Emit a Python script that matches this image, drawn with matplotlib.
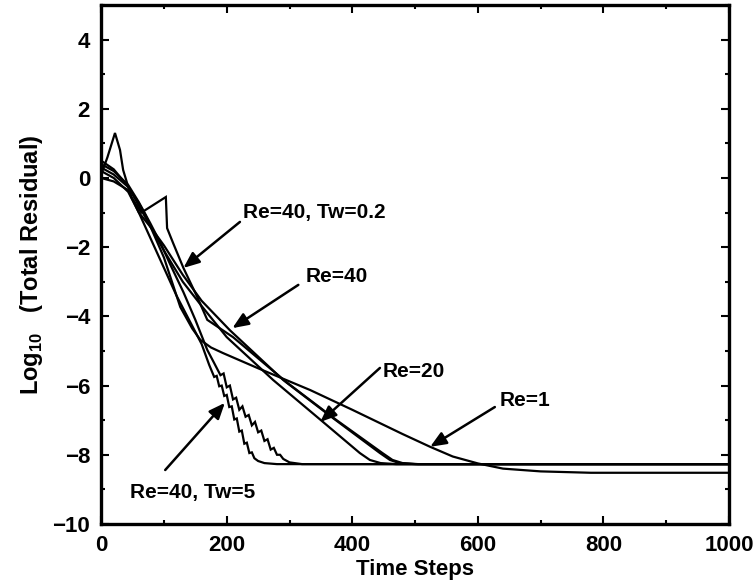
import matplotlib
matplotlib.use("Agg")
import matplotlib.pyplot as plt
from matplotlib.ticker import MultipleLocator

plt.rcParams['font.family'] = ['Liberation Sans', 'DejaVu Sans']
plt.rcParams['mathtext.fontset'] = 'custom'
plt.rcParams['mathtext.rm'] = 'Liberation Sans:bold'
plt.rcParams['mathtext.bf'] = 'Liberation Sans:bold'

# ---- data ----
re1_x = [0, 20, 43, 59, 70, 100, 126, 145, 158, 175, 194, 250, 333, 400, 480, 524, 560, 600, 640, 700, 780, 1000]
re1_y = [0.3, 0.1, -0.26, -0.7, -1.05, -2.3, -3.73, -4.35, -4.68, -4.9, -5.06, -5.5, -6.13, -6.7, -7.4, -7.77, -8.05, -8.25, -8.4, -8.48, -8.52, -8.52]

re20_x = [0, 20, 43, 60, 80, 100, 130, 160, 200, 274, 350, 412, 428, 445, 470, 1000]
re20_y = [0.5, 0.25, -0.25, -0.8, -1.45, -2.1, -3.0, -3.7, -4.6, -5.84, -7.0, -7.95, -8.15, -8.24, -8.27, -8.27]

re40_x = [0, 20, 43, 60, 80, 100, 130, 160, 205, 290, 370, 444, 460, 475, 500, 1000]
re40_y = [0.2, 0.0, -0.4, -1.0, -1.45, -1.95, -2.8, -3.55, -4.4, -5.84, -6.95, -7.95, -8.15, -8.24, -8.27, -8.27]

tw02_x = [0, 10, 22, 30, 35, 48, 64, 103, 105, 115, 131, 153, 169, 210, 295, 375, 448, 464, 480, 505, 1000]
tw02_y = [0.1, 0.6, 1.3, 0.81, 0.23, -0.55, -1.0, -0.55, -1.45, -1.9, -2.6, -3.44, -4.1, -4.6, -5.9, -7.0, -7.95, -8.15, -8.24, -8.27, -8.27]

tw5_x = [0, 20, 43, 60, 80, 100, 120, 140, 160, 172, 180, 184, 188, 192, 196, 200, 204, 208, 212, 216,
         220, 224, 228, 232, 236, 240, 244, 250, 260, 280, 1000]
tw5_y = [0.0, -0.1, -0.35, -1.0, -1.8, -2.6, -3.4, -4.1, -4.8, -5.4, -5.75, -5.72, -6.02, -6.0, -6.3, -6.27,
         -6.62, -6.6, -6.98, -6.95, -7.33, -7.3, -7.68, -7.65, -7.95, -7.93, -8.1, -8.18, -8.24, -8.27, -8.27]

wavy_x = [0, 20, 43, 60, 78, 95, 110, 131, 150, 169, 180, 190, 195, 200, 205, 210, 215, 220, 225, 230, 235,
          240, 245, 250, 255, 260, 265, 270, 275, 280, 285, 290, 300, 320, 1000]
wavy_y = [0.4, 0.2, -0.2, -0.7, -1.3, -1.9, -2.5, -3.3, -4.1, -4.97, -5.35, -5.7, -5.65, -6.05, -6.0, -6.4,
          -6.35, -6.7, -6.6, -6.9, -6.85, -7.15, -7.05, -7.35, -7.3, -7.6, -7.55, -7.85, -7.8, -8.0, -8.0,
          -8.12, -8.22, -8.27, -8.27]

labels = ["Re=40, Tw=0.2", "Re=40", "Re=20", "Re=1", "Re=40, Tw=5"]
label_xy = [(226, -1.0), (325, -2.86), (449, -5.58), (635, -6.42), (46, -9.1)]
arrow_tail = [(221, -1.27), (314, -3.09), (444, -5.49), (627, -6.62), (102, -8.44)]
arrow_head = [(131, -2.6), (209, -4.34), (349, -7.05), (524, -7.77), (197, -6.5)]

x_ticks = [0, 200, 400, 600, 800, 1000]
y_ticks = [-10, -8, -6, -4, -2, 0, 2, 4]

# ---- figure ----
fig = plt.figure(figsize=(7.55, 5.85), dpi=100)
ax = fig.add_axes([0.134, 0.1043, 0.8316, 0.8872])

for xs, ys in [(re1_x, re1_y), (re20_x, re20_y), (re40_x, re40_y),
               (tw02_x, tw02_y), (tw5_x, tw5_y), (wavy_x, wavy_y)]:
    ax.plot(xs, ys, color='black', lw=1.6, solid_joinstyle='miter')

for lab, (tx, ty), tail, head in zip(labels, label_xy, arrow_tail, arrow_head):
    ax.text(tx, ty, lab, fontsize=15, fontweight='bold', ha='left', va='center')
    ax.annotate('', xy=head, xytext=tail,
                arrowprops=dict(arrowstyle='-|>,head_length=0.6,head_width=0.25', color='black', lw=1.8,
                                mutation_scale=16, shrinkA=0, shrinkB=0))

ax.set_xlim(0, 1000)
ax.set_ylim(-10, 5)
ax.set_xticks(x_ticks)
ax.set_yticks(y_ticks)
ax.xaxis.set_minor_locator(MultipleLocator(100))
ax.yaxis.set_minor_locator(MultipleLocator(1))
ax.tick_params(which='both', direction='in', top=True, right=True, width=1.5)
ax.tick_params(which='major', length=6, labelsize=16, pad=8)
ax.tick_params(which='minor', length=3)
for lab in ax.get_xticklabels() + ax.get_yticklabels():
    lab.set_fontweight('bold')
for s in ax.spines.values():
    s.set_linewidth(2.4)

ax.set_xlabel('Time Steps', fontsize=16, fontweight='bold', labelpad=2)
ax.set_ylabel(r'Log$_{\mathbf{10}}$   (Total Residual)', fontsize=17, fontweight='bold', labelpad=5)

fig.savefig('out.png', dpi=100)
